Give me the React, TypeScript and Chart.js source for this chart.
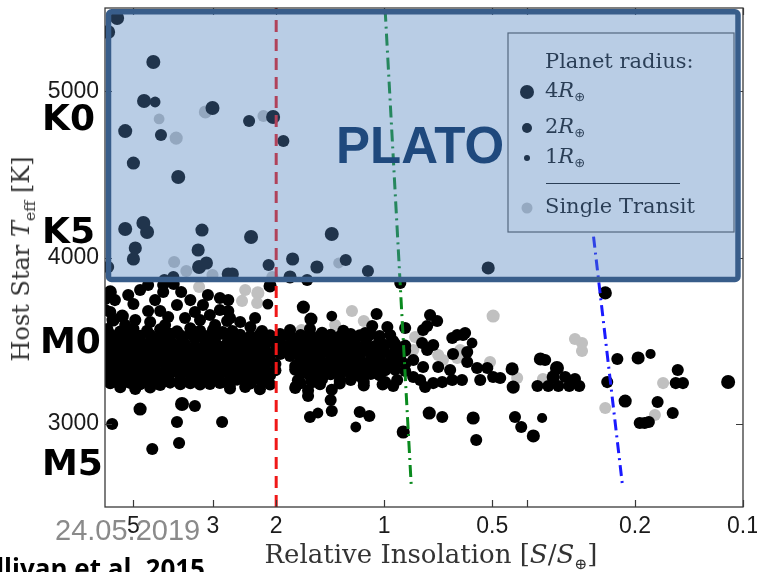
import React, { useEffect, useRef } from "react";
import { Chart, registerables } from "chart.js";

Chart.register(...registerables);

// Each point: [relative insolation S/S⊕, host star Teff (K), planet radius (R⊕)]
type Pt = [number, number, number];

const xTicks = [5, 3, 2, 1, 0.5, 0.2, 0.1];
const xMinorTicks = [0.4];
const yTicks = [3000, 4000, 5000];
const xLimits = [0.1, 6];
const yLimits = [2500, 5500];
const platoTeffMin = 3868;
const legendRadii = [4, 2, 1];

// guide lines: [S, Teff]
const redLine: [number, number][] = [[2, 2500], [2, 5500]];
const greenLine: [number, number][] = [[0.994, 5490], [0.841, 2635]];
const blueLine: [number, number][] = [[0.27, 4400], [0.217, 2640]];

const upperConfirmed: Pt[] = [
  [5.88, 5356, 3.5], [5.55, 5440, 3.5], [4.4, 5175, 3.5], [4.67, 4941, 3.5], [4.35, 4935, 2],
  [5.27, 4760, 3.5], [4.19, 4736, 2.5], [5.0, 4568, 3], [3.75, 4484, 3.5], [3.01, 4899, 3.5],
  [2.38, 4821, 2.5], [2.04, 4845, 3.5], [1.91, 4700, 2.5], [5.27, 4171, 3.5], [4.69, 4207, 3.5],
  [4.58, 4153, 3.5], [3.22, 4165, 3], [2.35, 4123, 3.5], [1.4, 4141, 3.5], [4.94, 4057, 3],
  [5.0, 3991, 3], [5.88, 3943, 2.5], [3.3, 4045, 3], [3.28, 3943, 3.5], [3.13, 3967, 3],
  [2.1, 3955, 2.5], [1.8, 3991, 3], [1.54, 3943, 3], [1.28, 3985, 2.5], [1.11, 3919, 2.5],
  [1.83, 3883, 3], [1.64, 3865, 2.5], [2.72, 3901, 3], [2.65, 3901, 3], [3.87, 3883, 2.5],
  [4.1, 3865, 2.5], [0.513, 3937, 3],
];

const upperSingle: Pt[] = [
  [4.24, 4833, 2], [3.8, 4718, 3], [3.15, 4875, 3], [2.17, 4851, 2.5], [3.85, 3973, 2.5],
  [3.56, 3919, 2.5], [1.34, 3967, 2], [3.01, 3895, 2.5], [2.05, 3883, 2.5],
];

const midConfirmed: Pt[] = [
  [4.55, 3835, 2.5], [4.13, 3835, 2.5], [3.86, 3841, 2.5], [5.8, 3793, 3], [5.17, 3775, 2.5],
  [4.13, 3793, 2.5], [3.68, 3793, 2.5], [3.1, 3775, 2.5], [2.87, 3757, 2.5], [5.99, 3751, 2.5],
  [5.0, 3720, 2.5], [3.78, 3714, 2.5], [3.2, 3714, 2.5], [5.99, 3684, 2.5], [4.55, 3678, 2.5],
  [4.21, 3678, 2.5], [4.0, 3642, 2.5], [5.37, 3648, 3], [5.7, 3624, 3], [2.87, 3684, 2.5],
  [3.06, 3654, 2.5], [3.26, 3624, 2.5], [2.74, 3618, 2.5], [2.08, 3829, 3], [2.11, 3720, 2],
  [2.72, 3744, 2.5], [2.72, 3678, 2.5], [1.68, 3702, 3], [1.6, 3630, 3], [1.4, 3648, 2],
  [2.65, 3558, 2.5], [2.36, 3582, 2.5], [2.19, 3558, 2.5], [1.83, 3564, 2.5], [2.13, 3528, 2.5],
  [0.902, 3847, 2.5], [1.05, 3660, 2.5], [1.08, 3588, 2.5], [0.98, 3582, 2.5], [0.874, 3576, 2.5],
  [0.745, 3654, 2.5], [0.712, 3618, 2.5], [0.759, 3588, 2.5], [0.603, 3534, 2.5], [1.13, 3546, 2.5],
  [0.242, 3787, 3],
  [5.63, 3744, 2.5], [4.79, 3805, 2.5], [4.35, 3744, 2.5], [3.47, 3744, 2.5], [4.94, 3624, 2.5],
  [4.49, 3612, 2.5], [3.59, 3636, 2.5], [2.96, 3594, 2.5], [5.27, 3594, 2.5], [4.08, 3594, 2.5],
  [3.37, 3672, 2.5], [5.8, 3672, 2.5], [2.69, 3636, 2.5], [2.52, 3612, 2.5], [2.29, 3636, 2.5],
];

const midSingle: Pt[] = [
  [3.28, 3823, 2.5], [2.44, 3805, 2.5], [2.25, 3787, 3], [2.49, 3739, 2.5], [2.26, 3727, 2.5],
  [1.37, 3594, 2.5], [1.23, 3678, 2.5], [1.7, 3564, 2.5], [1.14, 3618, 2.5], [0.82, 3522, 2.5],
  [0.497, 3648, 3],
];

const bandRowA: Pt[] = [
  [5.91, 3570, 2.5], [5.44, 3555, 2.5], [5.0, 3572, 2.5], [4.58, 3560, 2.5], [4.21, 3568, 2.5],
  [3.78, 3556, 2.5], [3.47, 3574, 2.5], [3.26, 3560, 2.5], [3.0, 3566, 2.5], [2.82, 3552, 2.5],
  [1.61, 3570, 2.5], [1.49, 3548, 2.5], [1.3, 3560, 2.5],
];

const bandRowAB: Pt[] = [
  [5.8, 3538, 2.5], [5.44, 3528, 2.5], [5.1, 3540, 2.5], [4.79, 3530, 2.5], [4.49, 3536, 2.5],
  [4.21, 3526, 2.5], [3.95, 3542, 2.5], [3.7, 3532, 2.5], [3.47, 3538, 2.5], [3.26, 3528, 2.5],
  [3.06, 3534, 2.5], [2.87, 3540, 2.5], [2.69, 3530, 2.5], [2.52, 3536, 2.5], [2.36, 3526, 2.5],
  [2.22, 3538, 2.5], [2.08, 3532, 2.5], [1.95, 3540, 2.5], [1.83, 3528, 2.5], [1.71, 3534, 2.5],
  [1.61, 3538, 2.5], [1.51, 3530, 2.5], [1.41, 3536, 2.5], [1.33, 3526, 2.5], [1.24, 3540, 2.5],
  [1.17, 3532, 2.5], [1.09, 3538, 2.5], [1.03, 3528, 2.5], [0.962, 3534, 2.5],
];

const bandRowB: Pt[] = [
  [5.8, 3510, 2.5], [5.52, 3495, 3], [5.17, 3515, 2.5], [4.85, 3500, 2.5], [4.49, 3490, 3],
  [4.21, 3512, 2.5], [3.95, 3505, 2.5], [3.66, 3498, 2.5], [3.37, 3518, 3], [3.16, 3502, 2.5],
  [2.96, 3494, 2.5], [2.72, 3508, 2.5], [2.55, 3515, 2.5], [2.39, 3500, 3], [2.25, 3492, 2.5],
  [2.11, 3506, 2.5], [1.95, 3512, 2.5], [1.8, 3498, 2.5], [1.69, 3505, 3], [1.59, 3515, 2.5],
  [1.49, 3495, 2.5], [1.4, 3508, 2.5], [1.3, 3500, 2.5], [1.22, 3490, 2.5], [1.12, 3512, 2.5],
  [1.03, 3505, 2.5], [0.944, 3498, 2.5],
];

const bandRowBC: Pt[] = [
  [5.99, 3478, 2.5], [5.63, 3468, 2.5], [5.27, 3480, 2.5], [4.94, 3470, 2.5], [4.63, 3476, 2.5],
  [4.35, 3466, 2.5], [4.08, 3482, 2.5], [3.83, 3472, 2.5], [3.59, 3478, 2.5], [3.37, 3468, 2.5],
  [3.16, 3474, 2.5], [2.96, 3480, 2.5], [2.78, 3470, 2.5], [2.6, 3476, 2.5], [2.44, 3466, 2.5],
  [2.29, 3478, 2.5], [2.15, 3472, 2.5], [2.01, 3480, 2.5], [1.89, 3468, 2.5], [1.77, 3474, 2.5],
  [1.66, 3478, 2.5], [1.56, 3470, 2.5], [1.46, 3476, 2.5], [1.37, 3466, 2.5], [1.28, 3480, 2.5],
  [1.2, 3472, 2.5], [1.13, 3478, 2.5], [1.06, 3468, 2.5], [0.994, 3474, 2.5], [0.932, 3480, 2.5],
  [0.874, 3470, 2.5],
];

const bandRowC: Pt[] = [
  [5.99, 3450, 2.5], [5.63, 3438, 2.5], [5.27, 3452, 3], [4.94, 3440, 2.5], [4.63, 3446, 2.5],
  [4.35, 3435, 2.5], [4.08, 3455, 3], [3.83, 3442, 2.5], [3.59, 3448, 2.5], [3.37, 3436, 2.5],
  [3.16, 3450, 2.5], [2.96, 3444, 3], [2.78, 3438, 2.5], [2.6, 3454, 2.5], [2.44, 3440, 2.5],
  [2.29, 3446, 2.5], [2.15, 3452, 2.5], [2.01, 3436, 2.5], [1.89, 3444, 3], [1.77, 3450, 2.5],
  [1.66, 3438, 2.5], [1.56, 3448, 2.5], [1.46, 3442, 2.5], [1.37, 3436, 2.5], [1.28, 3452, 2.5],
  [1.22, 3440, 2.5], [1.15, 3446, 2.5], [1.08, 3450, 3], [1.01, 3438, 2.5], [0.932, 3444, 2.5],
  [0.874, 3440, 2.5],
];

const bandRowCD: Pt[] = [
  [5.8, 3418, 2.5], [5.44, 3408, 2.5], [5.1, 3420, 2.5], [4.79, 3410, 2.5], [4.49, 3416, 2.5],
  [4.21, 3406, 2.5], [3.95, 3422, 2.5], [3.7, 3412, 2.5], [3.47, 3418, 2.5], [3.26, 3408, 2.5],
  [3.06, 3414, 2.5], [2.87, 3420, 2.5], [2.69, 3410, 2.5], [2.52, 3416, 2.5], [2.36, 3406, 2.5],
  [2.22, 3418, 2.5], [2.08, 3412, 2.5], [1.95, 3420, 2.5], [1.83, 3408, 2.5], [1.71, 3414, 2.5],
  [1.61, 3418, 2.5], [1.51, 3410, 2.5], [1.41, 3416, 2.5], [1.33, 3406, 2.5], [1.24, 3420, 2.5],
  [1.17, 3412, 2.5], [1.09, 3418, 2.5], [1.03, 3408, 2.5], [0.962, 3414, 2.5], [0.902, 3420, 2.5],
];

const bandRowD: Pt[] = [
  [5.88, 3390, 2.5], [5.52, 3378, 2.5], [5.17, 3392, 2.5], [4.85, 3380, 3], [4.55, 3386, 2.5],
  [4.27, 3375, 2.5], [4.0, 3394, 2.5], [3.75, 3382, 3], [3.52, 3388, 2.5], [3.3, 3376, 2.5],
  [3.1, 3392, 2.5], [2.91, 3384, 2.5], [2.72, 3378, 3], [2.55, 3390, 2.5], [2.39, 3380, 2.5],
  [2.25, 3386, 2.5], [2.11, 3394, 2.5], [1.71, 3382, 3], [1.61, 3376, 2.5], [1.51, 3390, 2.5],
  [1.41, 3384, 2.5], [1.33, 3378, 2.5], [1.24, 3392, 2.5], [1.17, 3386, 3], [1.09, 3380, 2.5],
  [1.03, 3388, 2.5], [0.962, 3376, 2.5], [0.902, 3390, 2.5],
];

const bandRowDE: Pt[] = [
  [5.99, 3358, 2.5], [5.63, 3348, 2.5], [5.27, 3360, 2.5], [4.94, 3350, 2.5], [4.63, 3356, 2.5],
  [4.35, 3346, 2.5], [4.08, 3362, 2.5], [3.83, 3352, 2.5], [3.59, 3358, 2.5], [3.37, 3348, 2.5],
  [3.16, 3354, 2.5], [2.96, 3360, 2.5], [2.78, 3350, 2.5], [2.6, 3356, 2.5], [2.44, 3346, 2.5],
  [2.29, 3358, 2.5], [2.15, 3352, 2.5], [2.01, 3360, 2.5], [1.77, 3348, 2.5], [1.66, 3354, 2.5],
  [1.56, 3358, 2.5], [1.46, 3350, 2.5], [1.37, 3356, 2.5], [1.28, 3346, 2.5], [1.2, 3360, 2.5],
  [1.13, 3352, 2.5], [1.06, 3358, 2.5], [0.994, 3348, 2.5], [0.932, 3354, 2.5], [0.874, 3360, 2.5],
];

const bandRowE: Pt[] = [
  [5.95, 3330, 2.5], [5.63, 3318, 2.5], [5.27, 3326, 2.5], [4.94, 3334, 2.5], [4.63, 3320, 3],
  [4.35, 3328, 2.5], [4.08, 3316, 2.5], [3.83, 3332, 2.5], [3.59, 3322, 3], [3.37, 3330, 2.5],
  [3.16, 3318, 2.5], [2.96, 3326, 2.5], [2.78, 3334, 2.5], [2.6, 3320, 3], [2.44, 3328, 2.5],
  [2.29, 3316, 2.5], [2.15, 3330, 2.5], [2.01, 3322, 2.5], [1.77, 3326, 2.5], [1.66, 3334, 2.5],
  [1.56, 3318, 3], [1.46, 3328, 2.5], [1.37, 3320, 2.5], [1.28, 3330, 2.5], [1.2, 3324, 2.5],
  [1.13, 3316, 2.5], [1.06, 3332, 3], [0.994, 3322, 2.5], [0.932, 3326, 2.5], [0.874, 3318, 2.5],
];

const bandRowEF: Pt[] = [
  [5.8, 3298, 2.5], [5.44, 3288, 2.5], [5.1, 3300, 2.5], [4.79, 3290, 2.5], [4.49, 3296, 2.5],
  [4.21, 3286, 2.5], [3.95, 3302, 2.5], [3.7, 3292, 2.5], [3.47, 3298, 2.5], [3.26, 3288, 2.5],
  [3.06, 3294, 2.5], [2.87, 3300, 2.5], [2.69, 3290, 2.5], [2.52, 3296, 2.5], [2.36, 3286, 2.5],
  [2.22, 3298, 2.5], [2.08, 3292, 2.5], [1.71, 3300, 2.5], [1.61, 3288, 2.5], [1.51, 3294, 2.5],
  [1.41, 3298, 2.5], [1.33, 3290, 2.5], [1.24, 3296, 2.5], [1.17, 3286, 2.5], [1.09, 3300, 2.5],
  [1.03, 3292, 2.5],
];

const bandRowF: Pt[] = [
  [5.91, 3270, 2.5], [5.63, 3258, 2.5], [5.2, 3266, 2.5], [5.0, 3250, 2.5], [4.69, 3262, 2.5],
  [4.49, 3256, 3], [4.21, 3268, 2.5], [3.95, 3252, 2.5], [3.7, 3264, 2.5], [3.47, 3258, 2.5],
  [3.26, 3270, 2.5], [3.06, 3254, 3], [2.91, 3262, 2.5], [2.74, 3250, 2.5], [2.57, 3266, 2.5],
  [2.41, 3258, 2.5], [2.26, 3270, 2.5], [2.13, 3256, 2.5], [1.74, 3262, 2.5], [1.59, 3254, 3],
  [1.49, 3268, 2.5], [1.33, 3258, 2.5], [1.24, 3264, 2.5], [1.14, 3252, 2.5],
];

const bandRowFG: Pt[] = [
  [5.8, 3244, 2.5], [5.44, 3236, 2.5], [5.1, 3246, 2.5], [4.79, 3238, 2.5], [4.49, 3242, 2.5],
  [4.21, 3234, 2.5], [3.95, 3248, 2.5], [3.7, 3238, 2.5], [3.47, 3244, 2.5], [3.26, 3236, 2.5],
  [3.06, 3240, 2.5], [2.87, 3246, 2.5], [2.69, 3238, 2.5], [2.36, 3242, 2.5], [2.08, 3236, 2.5],
  [1.71, 3244, 2.5], [1.51, 3238, 2.5], [1.33, 3242, 2.5],
];

const bandRowG: Pt[] = [
  [5.44, 3220, 2.5], [4.94, 3210, 2.5], [4.49, 3218, 2.5], [2.69, 3212, 2.5], [2.44, 3222, 2.5],
  [2.22, 3208, 2.5], [1.77, 3215, 2.5], [1.63, 3200, 2.5], [1.4, 3205, 2.5],
];

const rightConfirmed: Pt[] = [
  [0.779, 3564, 2.5], [0.784, 3486, 2.5], [0.73, 3474, 2.5], [0.646, 3516, 2.5], [0.626, 3534, 2.5],
  [0.595, 3546, 2.5], [0.569, 3486, 2], [0.587, 3372, 2.5], [0.551, 3336, 2.5], [0.516, 3336, 2.5],
  [0.497, 3282, 2.5], [0.475, 3276, 2.5], [0.44, 3330, 3], [0.437, 3221, 3], [0.54, 3264, 2.5],
  [0.607, 3264, 2.5], [0.646, 3264, 2.5], [0.689, 3251, 2.5], [0.73, 3245, 2.5], [0.769, 3221, 2.5],
  [0.794, 3264, 2.5], [0.83, 3282, 2.5], [0.92, 3264, 2.5], [0.994, 3251, 2.5], [0.962, 3342, 2.5],
  [0.83, 3384, 2.5], [0.779, 3342, 2.5], [0.707, 3342, 2.5], [0.655, 3324, 2.5], [0.587, 3432, 2.5],
  [0.759, 3444, 2.5], [0.643, 3420, 2.5], [1.14, 3230, 2.5], [1.01, 3236, 2.5], [0.944, 3228, 2.5],
  [0.224, 3390, 2.5], [0.196, 3396, 3], [0.181, 3420, 1.8], [0.152, 3324, 2.5], [0.154, 3245, 2.5],
  [0.147, 3245, 2.5], [0.11, 3251, 3.5], [0.239, 3251, 2.5], [0.213, 3137, 3], [0.173, 3131, 2.5],
  [0.157, 3065, 2.5], [0.194, 3005, 2.5], [0.188, 3005, 2.5], [0.183, 3011, 2.5], [0.367, 3390, 3],
  [0.356, 3384, 2.5], [0.33, 3336, 3.5], [0.338, 3282, 3], [0.313, 3282, 2.5], [0.294, 3270, 2.5],
  [0.286, 3227, 2.5], [0.305, 3227, 2.5], [0.374, 3227, 2.5], [0.349, 3227, 2.5], [0.327, 3227, 2.5],
  [0.432, 3041, 2.5], [0.415, 2981, 2.5], [0.363, 3035, 1.8], [0.384, 2927, 3], [0.565, 3035, 3],
  [0.554, 2903, 2.5], [0.749, 3065, 3], [0.689, 3041, 2.5], [0.885, 2951, 3],
];

const rightSingle: Pt[] = [
  [0.805, 3516, 2.5], [0.83, 3444, 2.5], [0.707, 3414, 2.5], [0.686, 3384, 2.5], [0.626, 3396, 2.5],
  [0.507, 3372, 2.5], [0.426, 3276, 2.5], [0.614, 3444, 2.5], [0.294, 3510, 2.5], [0.281, 3486, 2.5],
  [0.281, 3438, 2.5], [0.167, 3245, 2.5], [0.242, 3095, 2.5], [0.176, 3053, 2.5], [0.361, 3270, 2.5],
];

const lowConfirmed: Pt[] = [
  [5.73, 2999, 2.5], [4.79, 3089, 3], [3.66, 3119, 3.5], [3.37, 3107, 2.5], [3.78, 3011, 2.5],
  [2.83, 3011, 2.5], [4.43, 2849, 2.5], [3.73, 2885, 2.5], [1.61, 3041, 2.5], [1.53, 3065, 2],
  [1.4, 3077, 2.5], [1.2, 2981, 2], [1.17, 3071, 2.5], [1.1, 3047, 2.5], [1.63, 3167, 2.5],
  [1.41, 3143, 2.5], [1.77, 3227, 2],
];

const confirmed: Pt[] = [
  ...upperConfirmed, ...midConfirmed, ...bandRowA, ...bandRowAB, ...bandRowB, ...bandRowBC,
  ...bandRowC, ...bandRowCD, ...bandRowD, ...bandRowDE, ...bandRowE, ...bandRowEF, ...bandRowF,
  ...bandRowFG, ...bandRowG, ...rightConfirmed, ...lowConfirmed,
];
const singleTransit: Pt[] = [...upperSingle, ...midSingle, ...rightSingle];

const radiusPx = (R: number) => 3.4 + 2 * Math.log2(R);

const SERIF = '"DejaVu Serif", "Liberation Serif", serif';
const SANS = '"Liberation Sans", Arial, sans-serif';

const decorPlugin = {
  id: "decor",
  afterDatasetsDraw(chart: any) {
    const { ctx, chartArea: a, scales } = chart;
    ctx.save();
    ctx.strokeStyle = "#3a3a3a";
    ctx.lineWidth = 1.3;
    ctx.strokeRect(a.left, a.top, a.right - a.left, a.bottom - a.top);
    ctx.lineWidth = 1.2;
    ctx.beginPath();
    [...xTicks, ...xMinorTicks].forEach((v) => {
      const px = Math.round(scales.x.getPixelForValue(v)) + 0.5;
      ctx.moveTo(px, a.bottom);
      ctx.lineTo(px, a.bottom - 7);
      ctx.moveTo(px, a.top);
      ctx.lineTo(px, a.top + 7);
    });
    yTicks.forEach((v) => {
      const py = Math.round(scales.y.getPixelForValue(v)) + 0.5;
      ctx.moveTo(a.left, py);
      ctx.lineTo(a.left + 7, py);
      ctx.moveTo(a.right, py);
      ctx.lineTo(a.right - 7, py);
    });
    ctx.stroke();

    // size legend
    const L = { left: a.right - 235, top: a.top + 25, w: 226, h: 199 };
    ctx.fillStyle = "#ffffff";
    ctx.fillRect(L.left, L.top, L.w, L.h);
    ctx.strokeStyle = "#555";
    ctx.lineWidth = 1.2;
    ctx.strokeRect(L.left, L.top, L.w, L.h);
    ctx.fillStyle = "#111";
    ctx.textBaseline = "middle";
    ctx.textAlign = "left";
    ctx.font = `21px ${SERIF}`;
    ctx.fillText("Planet radius:", L.left + 37, L.top + 30);
    const rowsY = [59, 95, 125];
    legendRadii.forEach((R, i) => {
      const cy = L.top + rowsY[i];
      ctx.beginPath();
      ctx.fillStyle = "#000";
      ctx.arc(L.left + 19, cy, 3 + 2 * Math.log2(R), 0, Math.PI * 2);
      ctx.fill();
      ctx.fillStyle = "#111";
      let x = L.left + 37;
      ctx.font = `21px ${SERIF}`;
      ctx.fillText(String(R), x, cy);
      x += ctx.measureText(String(R)).width;
      ctx.font = `italic 21px ${SERIF}`;
      ctx.fillText("R", x, cy);
      x += ctx.measureText("R").width;
      ctx.font = `13px "DejaVu Sans", sans-serif`;
      ctx.fillText("⊕", x, cy + 6);
    });
    ctx.beginPath();
    ctx.strokeStyle = "#111";
    ctx.lineWidth = 1;
    ctx.moveTo(L.left + 38, L.top + 150.5);
    ctx.lineTo(L.left + 172, L.top + 150.5);
    ctx.stroke();
    ctx.beginPath();
    ctx.fillStyle = "#c4c4c4";
    ctx.arc(L.left + 19, L.top + 175, 5.5, 0, Math.PI * 2);
    ctx.fill();
    ctx.fillStyle = "#111";
    ctx.font = `21px ${SERIF}`;
    ctx.fillText("Single Transit", L.left + 37, L.top + 175);
    ctx.restore();
  },
  afterDraw(chart: any) {
    const { ctx, chartArea: a, scales } = chart;
    const yb = scales.y.getPixelForValue(platoTeffMin);
    const x0 = a.left + 3.5;
    const x1 = a.right - 5;
    const y0 = a.top + 3.7;
    ctx.save();
    ctx.beginPath();
    ctx.roundRect(x0, y0, x1 - x0, yb - y0, 3);
    ctx.fillStyle = "rgba(79,129,189,0.4)";
    ctx.fill();
    ctx.lineWidth = 5.5;
    ctx.strokeStyle = "#385d8a";
    ctx.stroke();
    ctx.restore();
  },
};

const toXY = (pts: Pt[]) => pts.map((p) => ({ x: p[0], y: p[1] }));
const lineXY = (pts: [number, number][]) => pts.map((p) => ({ x: p[0], y: p[1] }));

export default function App() {
  const canvasRef = useRef<HTMLCanvasElement | null>(null);

  useEffect(() => {
    const canvas = canvasRef.current;
    if (!canvas) return;
    const chart = new Chart(canvas, {
      type: "scatter",
      data: {
        datasets: [
          {
            label: "HZ inner",
            data: lineXY(redLine),
            showLine: true,
            borderColor: "#f01818",
            borderWidth: 3,
            borderDash: [12, 7],
            pointRadius: 0,
            order: -1,
          } as any,
          {
            label: "HZ mid",
            data: lineXY(greenLine),
            showLine: true,
            borderColor: "#0a8a1e",
            borderWidth: 3,
            borderDash: [12, 5, 2, 5],
            pointRadius: 0,
            order: -1,
          } as any,
          {
            label: "HZ outer",
            data: lineXY(blueLine),
            showLine: true,
            borderColor: "#1a1aff",
            borderWidth: 3,
            borderDash: [11, 5, 2, 5],
            pointRadius: 0,
            order: -1,
          } as any,
          {
            label: "Confirmed",
            data: toXY(confirmed),
            backgroundColor: "#000000",
            borderWidth: 0,
            pointRadius: confirmed.map((p) => radiusPx(p[2])),
            pointHoverRadius: confirmed.map((p) => radiusPx(p[2])),
            order: 1,
          },
          {
            label: "Single Transit",
            data: toXY(singleTransit),
            backgroundColor: "#c0c0c0",
            borderWidth: 0,
            pointRadius: singleTransit.map((p) => radiusPx(p[2])),
            pointHoverRadius: singleTransit.map((p) => radiusPx(p[2])),
            order: 2,
          },
        ],
      },
      options: {
        responsive: false,
        animation: false,
        devicePixelRatio: 1,
        layout: { padding: { top: 8, right: 14, left: 0, bottom: 0 } },
        plugins: { legend: { display: false }, tooltip: { enabled: false } },
        events: [],
        scales: {
          x: {
            type: "logarithmic",
            reverse: true,
            min: xLimits[0],
            max: xLimits[1],
            position: "bottom",
            grid: { display: false, drawTicks: false },
            border: { display: false },
            ticks: {
              autoSkip: false,
              maxRotation: 0,
              padding: 6,
              color: "#1a1a1a",
              font: { family: SANS, size: 23 },
              callback: (v: any) => String(v),
            },
            afterBuildTicks: (scale: any) => {
              scale.ticks = xTicks.map((v) => ({ value: v }));
            },
            afterFit: (scale: any) => {
              scale.height = 65;
              scale.paddingLeft = 0;
              scale.paddingRight = 0;
            },
          },
          y: {
            type: "linear",
            min: yLimits[0],
            max: yLimits[1],
            grid: { display: false, drawTicks: false },
            border: { display: false },
            ticks: {
              padding: 6,
              color: "#1a1a1a",
              font: { family: SANS, size: 23 },
              callback: (v: any) => String(v),
            },
            afterBuildTicks: (scale: any) => {
              scale.ticks = yTicks.map((v) => ({ value: v }));
            },
            afterFit: (scale: any) => {
              scale.width = 105;
              scale.paddingTop = 0;
              scale.paddingBottom = 0;
            },
          },
        },
      },
      plugins: [decorPlugin],
    } as any);
    return () => chart.destroy();
  }, []);

  const abs = (extra: React.CSSProperties): React.CSSProperties => ({
    position: "absolute",
    whiteSpace: "nowrap",
    pointerEvents: "none",
    ...extra,
  });
  const spectral = (text: string, left: number, top: number) => (
    <div
      style={abs({
        left,
        top,
        font: `bold 36px "DejaVu Sans", sans-serif`,
        lineHeight: "36px",
        color: "#000",
      })}
    >
      {text}
    </div>
  );

  return (
    <div
      style={{
        position: "absolute",
        left: 0,
        top: 0,
        width: 757,
        height: 572,
        overflow: "hidden",
        background: "#fff",
      }}
    >
      <canvas
        ref={canvasRef}
        width={757}
        height={572}
        style={{ position: "absolute", left: 0, top: 0, width: 757, height: 572 }}
      />
      <div
        style={abs({
          left: 21,
          top: 259,
          transform: "translate(-50%, -50%) rotate(-90deg)",
          font: `24px ${SERIF}`,
          lineHeight: "24px",
          color: "#333",
        })}
      >
        Host Star <i>T</i>
        <sub style={{ fontSize: "0.65em", lineHeight: 0 }}>eff</sub> [K]
      </div>
      <div
        style={abs({
          left: 431,
          top: 541,
          transform: "translateX(-50%)",
          font: `26px ${SERIF}`,
          lineHeight: "26px",
          color: "#333",
        })}
      >
        Relative Insolation [<i>S</i>/<i>S</i>
        <sub style={{ fontSize: "0.6em", lineHeight: 0 }}>⊕</sub>]
      </div>
      {spectral("K0", 42, 100)}
      {spectral("K5", 42, 213)}
      {spectral("M0", 40, 323)}
      {spectral("M5", 42, 445)}
      <div
        style={abs({
          left: 336,
          top: 120,
          font: `bold 51px ${SANS}`,
          lineHeight: "51px",
          color: "#1f497d",
        })}
      >
        PLATO
      </div>
      <div
        style={abs({
          left: 55,
          top: 516,
          font: `29px ${SANS}`,
          lineHeight: "29px",
          color: "#8a8a8a",
        })}
      >
        24.05.2019
      </div>
      <div
        style={abs({
          right: 757 - 205,
          top: 555,
          font: `bold 26px "Open Sans", sans-serif`,
          lineHeight: "26px",
          color: "#000",
        })}
      >
        Sullivan et al. 2015
      </div>
    </div>
  );
}
